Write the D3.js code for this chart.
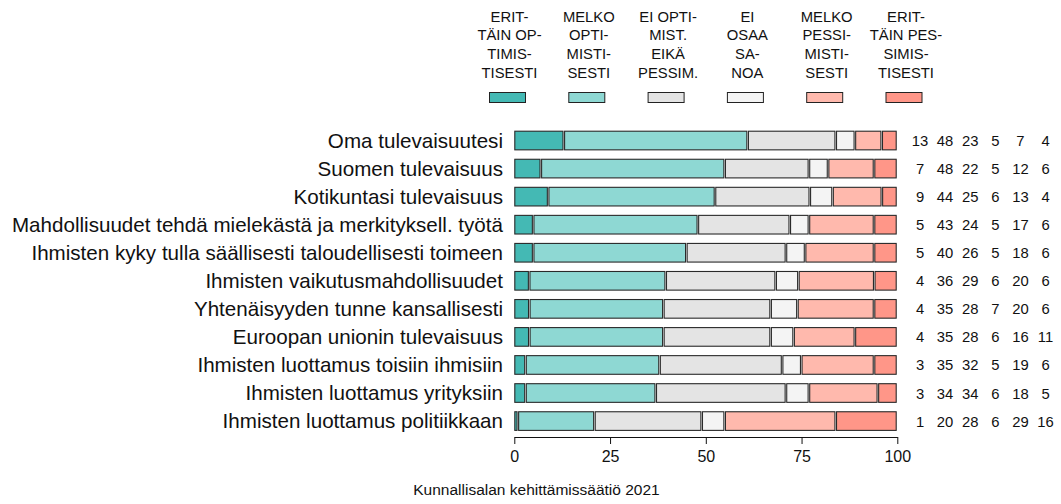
<!DOCTYPE html>
<html>
<head>
<meta charset="utf-8">
<script src="https://cdn.jsdelivr.net/npm/d3@7"></script>
<style>
  html, body { margin: 0; padding: 0; background: #ffffff; }
  svg { display: block; font-family: "Liberation Sans", Arial, Helvetica, sans-serif; }
</style>
</head>
<body>
<svg id="chart" width="1061" height="504"></svg>
<script>
// ---- data ----
const categories = [
  "Oma tulevaisuutesi",
  "Suomen tulevaisuus",
  "Kotikuntasi tulevaisuus",
  "Mahdollisuudet tehdä mielekästä ja merkityksell. työtä",
  "Ihmisten kyky tulla säällisesti taloudellisesti toimeen",
  "Ihmisten vaikutusmahdollisuudet",
  "Yhtenäisyyden tunne kansallisesti",
  "Euroopan unionin tulevaisuus",
  "Ihmisten luottamus toisiin ihmisiin",
  "Ihmisten luottamus yrityksiin",
  "Ihmisten luottamus politiikkaan"
];
const erittainOptimistisesti = [13, 7, 9, 5, 5, 4, 4, 4, 3, 3, 1];
const melkoOptimistisesti    = [48, 48, 44, 43, 40, 36, 35, 35, 35, 34, 20];
const eiOptEikaPessim        = [23, 22, 25, 24, 26, 29, 28, 28, 32, 34, 28];
const eiOsaaSanoa            = [5, 5, 6, 5, 5, 6, 7, 6, 5, 6, 6];
const melkoPessimistisesti   = [7, 12, 13, 17, 18, 20, 20, 16, 19, 18, 29];
const erittainPessimistisesti= [4, 6, 4, 6, 6, 6, 6, 11, 6, 5, 16];
const seriesLabels = [
  ["ERIT-", "TÄIN OP-", "TIMIS-", "TISESTI"],
  ["MELKO", "OPTI-", "MISTI-", "SESTI"],
  ["EI OPTI-", "MIST.", "EIKÄ", "PESSIM."],
  ["EI", "OSAA", "SA-", "NOA"],
  ["MELKO", "PESSI-", "MISTI-", "SESTI"],
  ["ERIT-", "TÄIN PES-", "SIMIS-", "TISESTI"]
];
const tickValues = [0, 25, 50, 75, 100];
const footerText = "Kunnallisalan kehittämissäätiö 2021";

const seriesValues = [erittainOptimistisesti, melkoOptimistisesti, eiOptEikaPessim,
                      eiOsaaSanoa, melkoPessimistisesti, erittainPessimistisesti];
const colors = ["#44b9b4", "#8ed8d3", "#e4e4e4", "#f4f4f4", "#ffb9ad", "#ff9688"];

// ---- layout ----
const svg = d3.select("#chart");
const x = d3.scaleLinear().domain([0, 100]).range([514.3, 897.3]);
const y = d3.scaleBand().domain(categories).range([126.5, 435.1])
  .paddingInner(0.3).paddingOuter(0.15);
const legendX = d3.scalePoint().domain(d3.range(6)).range([507.5, 904]);
const numX = d3.scalePoint().domain(d3.range(6)).range([920, 1045.5]);

// ---- legend ----
const leg = svg.append("g").attr("class", "legend");
seriesLabels.forEach((lines, i) => {
  const cx = legendX(i);
  lines.forEach((ln, j) => {
    leg.append("text")
      .attr("x", cx + 2).attr("y", 21.5 + j * 18.9)
      .attr("text-anchor", "middle")
      .attr("font-size", 14.8)
      .attr("fill", "#111")
      .text(ln);
  });
  leg.append("rect")
    .attr("x", cx - 18).attr("y", 92.5)
    .attr("width", 36).attr("height", 10)
    .attr("fill", colors[i])
    .attr("stroke", "#222").attr("stroke-width", 1);
});

// ---- bars ----
const rows = categories.map((c, r) => {
  const vals = seriesValues.map(s => s[r]);
  const total = d3.sum(vals);
  let cum = 0;
  const segs = vals.map((v, i) => {
    const s = { i, v, start: cum / total * 100, end: (cum + v) / total * 100 };
    cum += v;
    return s;
  });
  return { cat: c, vals, segs };
});

const barG = svg.append("g");
rows.forEach(row => {
  const g = barG.append("g");
  g.selectAll("rect").data(row.segs).join("rect")
    .attr("x", d => x(d.start) + 0.5)
    .attr("y", y(row.cat) + 0.5)
    .attr("width", d => Math.max(0.5, x(d.end) - x(d.start) - 1.6))
    .attr("height", y.bandwidth() - 1)
    .attr("fill", d => colors[d.i])
    .attr("stroke", "#2a2a2a")
    .attr("stroke-width", 1.1);

  // category label
  svg.append("text")
    .attr("x", 503)
    .attr("y", y(row.cat) + y.bandwidth() / 2 + 7)
    .attr("text-anchor", "end")
    .attr("font-size", 20.6)
    .attr("fill", "#111")
    .text(row.cat);

  // numbers
  row.vals.forEach((v, i) => {
    svg.append("text")
      .attr("x", numX(i))
      .attr("y", y(row.cat) + y.bandwidth() / 2 + 5.5)
      .attr("text-anchor", "middle")
      .attr("font-size", 14.8)
      .attr("fill", "#111")
      .text(v);
  });
});

// ---- axis ----
const axis = d3.axisBottom(x).tickValues(tickValues).tickSize(7).tickSizeOuter(0).tickPadding(7);
const ax = svg.append("g").attr("transform", "translate(0,437)").call(axis);
ax.select(".domain").attr("stroke", "#111");
ax.selectAll(".tick line").attr("stroke", "#111");
ax.selectAll(".tick text").attr("font-size", 16).attr("fill", "#111")
  .attr("font-family", "Liberation Sans, Arial, sans-serif");

// ---- footer ----
svg.append("text")
  .attr("x", 536.5).attr("y", 495)
  .attr("text-anchor", "middle")
  .attr("font-size", 15.5)
  .attr("fill", "#111")
  .text(footerText);
</script>
</body>
</html>
